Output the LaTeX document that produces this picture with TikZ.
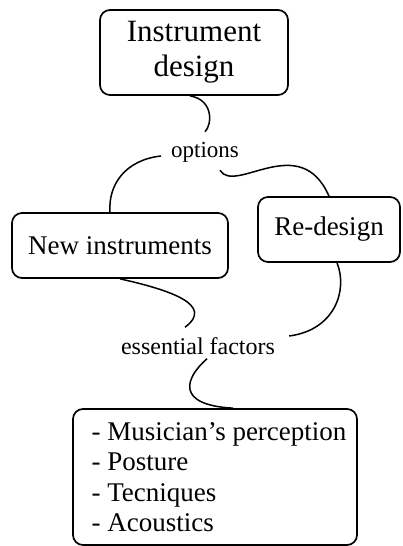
\documentclass[tikz,border=0pt]{standalone}
\usepackage{fontspec}
\setmainfont{Liberation Serif}
\begin{document}
\begin{tikzpicture}[x=1pt,y=-1pt,
  box/.style={draw, line width=1.7pt, rounded corners=10pt, inner sep=0pt},
  lbl/.style={inner sep=0pt},
  link/.style={line width=1.5pt}]
\useasboundingbox (0,0) rectangle (402,546);
\node[box, minimum width=188pt, minimum height=85pt, align=center,
      font=\fontsize{31}{35}\selectfont] (top) at (194,52.5) {Instrument\\design};
\node[lbl, font=\fontsize{23}{27}\selectfont] (opt) at (205,152) {options};
\node[box, minimum width=216pt, minimum height=65pt,
      font=\fontsize{27}{31}\selectfont] (new) at (120,245.5) {New instruments};
\node[box, minimum width=142pt, minimum height=65pt,
      font=\fontsize{27}{31}\selectfont] (re) at (329,229.5) {Re-design};
\node[lbl, font=\fontsize{24}{28}\selectfont] (ess) at (198,346) {essential factors};
\node[box, minimum width=284pt, minimum height=136pt, align=left,
      font=\fontsize{27}{30.3}\selectfont] (bot) at (215,477)
  {\hspace*{8pt}- Musician’s perception\\\hspace*{8pt}- Posture\\\hspace*{8pt}- Tecniques\\\hspace*{8pt}- Acoustics};

\draw[link] ([xshift=-4pt]top.south) .. controls (214,100) and (212,125) .. ([yshift=10pt]opt.north);
\draw[link] ([xshift=-10pt,yshift=-4pt]opt.west) .. controls (125,160) and (108,185) .. ([xshift=-10pt]new.north);
\draw[link] ([xshift=15pt,yshift=-8pt]opt.south) .. controls (235,195) and (300,130) .. (re.north);
\draw[link] (new.south) .. controls (170,290) and (215,305) .. ([xshift=-13pt,yshift=10pt]ess.north);
\draw[link] ([xshift=8pt]re.south) .. controls (348,290) and (335,330) .. ([xshift=14pt,yshift=10pt]ess.east);
\draw[link] ([xshift=9pt,yshift=-4pt]ess.south) .. controls (185,378) and (175,405) .. ([xshift=18pt]bot.north);
\end{tikzpicture}
\end{document}
